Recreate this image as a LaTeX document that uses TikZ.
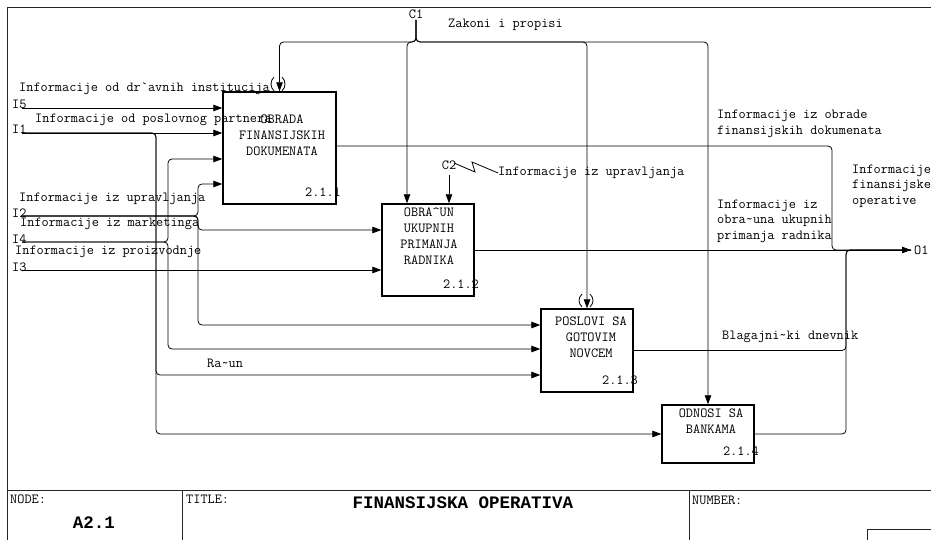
\documentclass[tikz,border=0pt]{standalone}
\usepackage{fontspec}
\newfontfamily\headfont{Liberation Mono}
\usetikzlibrary{arrows.meta,calc}
\begin{document}
\begin{tikzpicture}[x=1pt,y=-1pt,
  txt/.style={font=\ttfamily\fontsize{13.9}{15.5}\selectfont, inner sep=0pt, anchor=west, align=left},
  ctxt/.style={font=\ttfamily\fontsize{13.9}{16}\selectfont, inner sep=0pt, align=center},
  icom/.style={font=\ttfamily\fontsize{13.9}{15}\selectfont, inner sep=0pt},
  big/.style={font=\headfont\bfseries\fontsize{17.5}{20}\selectfont, inner sep=0pt},
  fn/.style={draw, line width=1.4pt, inner sep=0pt},
  flow/.style={line width=0.8pt, rounded corners=4pt},
  arr/.style={flow, -{Triangle[length=9pt,width=6.5pt]}},
  frame/.style={line width=0.8pt, draw=black!85},
]
\useasboundingbox (0,0) rectangle (931,540);

% ---- outer frame and title block ----
\draw[frame] (7,540) -- (7,7) -- (931,7);
\draw[frame] (7,490) -- (931,490);
\draw[frame] (182,490) -- (182,540);
\draw[frame] (689,490) -- (689,540);
\draw[frame] (867,540) -- (867,529) -- (931,529);

\node[icom, anchor=west] (node) at (10,499) {NODE:};
\node[big] (nodeid) at (94,523) {A2.1};
\node[icom, anchor=west] (title) at (186,499) {TITLE:};
\node[big] (titletext) at (463,503) {FINANSIJSKA OPERATIVA};
\node[icom, anchor=west] (number) at (692,500) {NUMBER:};

% ---- activity boxes ----
\node[fn, minimum width=113pt, minimum height=112pt] (b1) at (279.5,148) {};
\node[fn, minimum width=92pt, minimum height=92pt] (b2) at (428,250) {};
\node[fn, minimum width=92pt, minimum height=83pt] (b3) at (587,350.5) {};
\node[fn, minimum width=92pt, minimum height=58pt] (b4) at (708,434) {};

\node[ctxt, anchor=north] (t1) at (282,115) {OBRADA\\FINANSIJSKIH\\DOKUMENATA};
\node[ctxt, anchor=north] (t2) at (429,208) {OBRA\textasciicircum UN\\UKUPNIH\\PRIMANJA\\RADNIKA};
\node[ctxt, anchor=north] (t3) at (591,317) {POSLOVI SA\\GOTOVIM\\NOVCEM};
\node[ctxt, anchor=north] (t4) at (711,409) {ODNOSI SA\\BANKAMA};

\node[icom] (n1) at (323,192) {2.1.1};
\node[icom] (n2) at (461,284) {2.1.2};
\node[icom] (n3) at (620,380) {2.1.3};
\node[icom] (n4) at (741,451) {2.1.4};

% ---- ports and junctions ----
\coordinate (c1) at (416,20);
\coordinate (c1j) at (416,42);
\coordinate (c1b2) at (407,42);
\coordinate (c2) at (449,175);

\coordinate (i5) at (22,108);
\coordinate (i1) at (22,133);
\coordinate (i2) at (22,216);
\coordinate (i4) at (22,242);
\coordinate (i3) at (22,270);
\coordinate (j1) at (156,133);
\coordinate (j4) at (168,242);
\coordinate (j2) at (198,216);

\coordinate (p1c) at ($(b1.west)+(0,11)$);
\coordinate (p1d) at ($(b1.west)+(0,36)$);
\coordinate (p2a) at ($(b2.west)+(0,-20)$);
\coordinate (p3a) at ($(b3.west)+(0,-25.5)$);
\coordinate (p3b) at ($(b3.west)+(0,-1.5)$);
\coordinate (p3c) at ($(b3.west)+(0,24.5)$);
\coordinate (q1) at ($(b1.east)+(0,-2)$);
\coordinate (m1) at (832,250);
\coordinate (o1j) at (846,250);
\coordinate (o1) at (911,250);

% ---- controls ----
\draw[arr] (c1) -- (c1j) -| (b1.north);
\draw[arr] (c1) -- (c1j) -- (c1b2) -- (c1b2 |- b2.north);
\draw[arr] (c1) -- (c1j) -| (b3.north);
\draw[arr] (c1) -- (c1j) -| (b4.north);
\draw[arr] (c2) -- (c2 |- b2.north);

% tunnel marks
\draw[line width=0.8pt] (274,77) .. controls (270,81) and (270,87) .. (274,91);
\draw[line width=0.8pt] (282,77) .. controls (286,81) and (286,87) .. (282,91);
\draw[line width=0.8pt] (582,294) .. controls (578,298) and (578,303) .. (582,307);
\draw[line width=0.8pt] (590,294) .. controls (594,298) and (594,303) .. (590,307);

% ---- inputs ----
\draw[arr] (i5) -- (i5 -| b1.west);
\draw[arr] (i1) -- (i1 -| b1.west);
\draw[arr] (i1) -- (j1) |- (p3c);
\draw[arr] (i1) -- (j1) |- (b4.west);
\draw[arr] (i4) -- (j4) |- (p1c);
\draw[arr] (i4) -- (j4) |- (p3b);
\draw[arr] (i2) -- (j2) |- (p1d);
\draw[arr] (i2) -- (j2) |- (p3a);
\draw[arr] (i2) -- (j2) |- (p2a);
\draw[arr] (i3) -- (i3 -| b2.west);

% ---- outputs ----
\draw[flow] (q1) -| (m1) -- (o1);
\draw[flow] (b2.east) -- (o1);
\draw[flow] (b3.east) -| (o1j) -- (o1);
\draw[arr] (b4.east) -| (o1j) -- (o1);

% ---- ICOM codes ----
\node[icom, anchor=base west] (l-i5) at (12,109) {I5};
\node[icom, anchor=base west] (l-i1) at (12,134) {I1};
\node[icom, anchor=base west] (l-i2) at (12,217) {I2};
\node[icom, anchor=base west] (l-i4) at (12,243) {I4};
\node[icom, anchor=base west] (l-i3) at (12,271) {I3};
\node[icom] (l-c1) at (416,14) {C1};
\node[icom] (l-c2) at (449,165) {C2};
\node[icom, anchor=west] (l-o1) at (914,250) {O1};

% ---- arrow labels ----
\node[txt] (a-i5) at (19,89) {Informacije od dr`avnih institucija};
\node[txt] (a-i1) at (35,120) {Informacije od poslovnog partnera};
\node[txt] (a-i2) at (19,199) {Informacije iz upravljanja};
\node[txt] (a-i4) at (20,224) {Informacije iz marketinga};
\node[txt] (a-i3) at (15,252) {Informacije iz proizvodnje};
\node[txt] (a-c1) at (448,25) {Zakoni i propisi};
\node[txt] (a-c2) at (498,173) {Informacije iz upravljanja};
\draw[line width=0.8pt] (454,163) -- (475,172) -- (472,162) -- (a-c2.west);
\node[txt] (a-ra) at (207,363) {Ra\textasciitilde un};
\node[txt] (a-o11) at (717,124) {Informacije iz obrade\\finansijskih dokumenata};
\node[txt] (a-o12) at (717,221) {Informacije iz\\obra\textasciitilde una ukupnih\\primanja radnika};
\node[txt] (a-o13) at (722,337) {Blagajni\textasciitilde ki dnevnik};
\node[txt] (a-o1) at (852,186) {Informacije\\finansijske\\operative};
\end{tikzpicture}
\end{document}
